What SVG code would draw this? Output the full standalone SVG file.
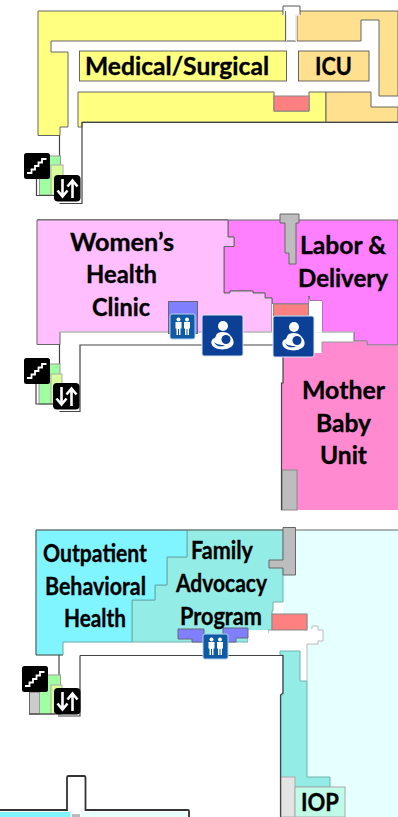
<svg xmlns="http://www.w3.org/2000/svg" xmlns:xlink="http://www.w3.org/1999/xlink" width="398" height="817" viewBox="0 0 398 817">
<style>
.a{stroke:#666;stroke-width:1;stroke-linejoin:miter}
.t{stroke:#6fb3ae;stroke-width:1}
.w{fill:none;stroke:#444;stroke-width:1.2}
.y{fill:#ffff80}.o{fill:#ffe08f}.r{fill:#ff8080;stroke:#888;stroke-width:1}
.g{fill:#a0ffa0;stroke:#999;stroke-width:1}.l{fill:#d8ff99;stroke:#aaa;stroke-width:1}
.b{fill:#8080ff;stroke:#667;stroke-width:1}.s{fill:#bdbdbd;stroke:#666;stroke-width:1}
text{font-family:Lato,"Liberation Sans",sans-serif;font-weight:700;font-size:25.5px;fill:#000;stroke:#000;stroke-width:.35}
</style>
<defs>
<g id="stairs"><rect width="26" height="26" rx="2.5" fill="#000"/><path d="M3 20H7.500V16.500H11V13H14.500V9.500H18V6H22.500" fill="none" stroke="#fff" stroke-width="1.800"/></g>
<g id="lift"><rect width="26.500" height="26.500" rx="4" fill="#000"/><path d="M8.500 4V21M3.500 15.500L8.500 21.500L13.500 15.500M18.500 23V6M13.500 11.500L18.500 5.500L23.500 11.500" fill="none" stroke="#fff" stroke-width="2.600"/></g>
<g id="wc"><rect width="25" height="25" rx="2" fill="#0f5aa5" stroke="#b5d2ea" stroke-width="1"/><g fill="#fff"><circle cx="8.500" cy="5.500" r="2"/><circle cx="17" cy="5.500" r="2"/><path d="M5.500 8H11.500V14.500H10.500V21H9V15H8V21H6.500V14.500H5.500Z"/><path d="M14 8H20V14.500H19V21H17.500V15H16.500V21H15V14.500H14Z"/></g></g>
<g id="nurse"><rect width="41" height="41" rx="2" fill="#0c3f96" stroke="#dbe5f3" stroke-width="1"/><g fill="#fff"><circle cx="21" cy="11" r="5"/><path d="M16 18C20 16 26 17 28 20C33 25 33 31 27 33C21 36 12 34 10 30C8 26 11 23 13 23C14 21 14 19 16 18Z"/></g><circle cx="24" cy="24.500" r="4.500" fill="#0c3f96"/><path d="M12 27C15 30 19 29.500 23 30.500C20 32 14 32 12 27Z" fill="#0c3f96"/></g>
</defs>

<g id="floor-1">
<path class="y a" d="M38 11H286V41H51V52H68V127H60V135.500H38Z"/>
<path class="o a" d="M297 11H398V96H379V20H361V41H297Z"/>
<path d="M283 6H300V15H296V41H286V15H283Z" fill="#fff" stroke="#555" stroke-width="1"/>
<path d="M286 15V41M296 15V41M283 15H286M296 15H300" stroke="#fff" stroke-width="1.500" fill="none"/>
<path d="M285.500 11V41" stroke="#666" fill="none"/>
<path class="y a" d="M78 92H274V111H309V92H326V122H82V127H78Z"/>
<path class="o a" d="M326 92H371V107H398V122H326Z"/>
<rect class="r" x="274" y="96" width="35" height="15"/>
<path class="w" d="M398 122.500H82V203.500H59.500M59.500 135.500V156"/>
<rect class="g" x="39.500" y="156" width="21" height="39"/>
<rect class="l" x="51" y="165" width="12" height="30"/>
<path class="w" d="M36.500 170V195.500H54"/>
<use xlink:href="#stairs" x="24" y="153"/>
<use xlink:href="#lift" x="54" y="175"/>
<g id="medical-surgical"><rect class="y a" x="79.500" y="51" width="207" height="30"/><text x="85" y="75" textLength="184" lengthAdjust="spacingAndGlyphs">Medical/Surgical</text></g>
<g id="icu"><rect class="o a" x="298.500" y="51" width="70.500" height="30"/><text x="315" y="75" textLength="37" lengthAdjust="spacingAndGlyphs">ICU</text></g>
</g>

<g id="floor-2">
<path d="M37 220H228V237H234V246.500H224V293H230V291H253V293H265V298H272V304H309V296L310 301H322V332H354V341H367V345H398V220Z" fill="#ff80ff" stroke="#666"/>
<path d="M37 220H228V237H234V246.500H224V293H230V291H253V293H265V298H272V332H60V344.500H37Z" fill="#ffbfff" stroke="#666"/>
<path d="M60 332H354" stroke="#ddd" fill="none"/>
<path d="M272 332H322V301H310V297L309 304H272Z" fill="#fff"/>
<rect class="r" x="273.500" y="304" width="35" height="12"/>
<path d="M283 355H313V353H322V342H354V341H367V345H398V510H281V383H283Z" fill="#ff8ad0"/>
<path d="M322 352V342H354V341H367V345H398" fill="none" stroke="#999"/>
<rect x="282" y="470" width="15" height="40" fill="#bdbdbd" stroke="#888"/>
<path class="s" d="M280 214H299V223H296V264H289V253H285V223H280Z"/>
<rect class="b" x="168.500" y="301.500" width="29" height="32"/>
<path class="w" d="M273 345H80V411.500H59.500M59.500 344.500V364M283 355V383H281.500V510"/>
<rect class="g" x="39" y="364" width="21" height="40"/>
<rect class="l" x="51" y="374" width="11" height="30"/>
<path class="w" d="M36 380V404H54"/>
<use xlink:href="#stairs" x="24" y="358"/>
<use xlink:href="#lift" x="53" y="383"/>
<use xlink:href="#wc" x="170" y="314"/>
<use xlink:href="#nurse" x="202" y="315"/>
<use xlink:href="#nurse" x="273" y="316"/>
<g id="womens-health-clinic"><text x="70" y="251" textLength="104" lengthAdjust="spacingAndGlyphs">Women’s</text><text x="86" y="283" textLength="71" lengthAdjust="spacingAndGlyphs">Health</text><text x="92" y="316" textLength="58" lengthAdjust="spacingAndGlyphs">Clinic</text></g>
<g id="labor-delivery"><text x="300" y="254" textLength="86" lengthAdjust="spacingAndGlyphs">Labor &amp;</text><text x="298" y="287" textLength="90" lengthAdjust="spacingAndGlyphs">Delivery</text></g>
<g id="mother-baby-unit"><text x="302" y="399" textLength="83" lengthAdjust="spacingAndGlyphs">Mother</text><text x="316" y="432" textLength="55" lengthAdjust="spacingAndGlyphs">Baby</text><text x="320" y="464" textLength="47" lengthAdjust="spacingAndGlyphs">Unit</text></g>
</g>

<g id="floor-3">
<path d="M295 530H398V817H307V681H307V644H318V641H323V630H318V626H312V629H307V614H283V575H295Z" fill="#e6ffff"/>
<path d="M295 530H398" class="a" fill="none"/>
<path d="M307 630V614" stroke="#bbb" fill="none"/>
<path d="M312 629V626H318V630H323V641H318V644H307V681H300V651H280V655H80V642H268V630H312Z" fill="#fff"/>
<path d="M312 629V626H318V630H323V641H318V644H307V681" fill="none" stroke="#bbb"/>
<path d="M187 530H283V602H273V611H272V630H268V633H248V642H132V600H155V585H167V557H187Z" fill="#94ece6" class="t"/>
<path d="M36 530H187V557H167V585H155V600H132V642H63V655H36Z" fill="#80f4ff" stroke="#6aa"/>
<path d="M36 530H283M36 530V655H63" class="a" fill="none"/>
<path d="M203 642H268V630H248V642Z" fill="#fff"/>
<path class="s" d="M283 527.500H295.500V575H283V568H269V560H283Z"/>
<path class="b" d="M178 629H204V642H192V639H178Z"/>
<path class="b" d="M223 628H248V638H236V642H223Z"/>
<rect class="r" x="272" y="614" width="35" height="16"/>
<path d="M280 651H300V681H307V777H330V787H295V817H281V695H283V655H280Z" fill="#94ece6" stroke="#6fb3ae"/>
<rect x="281" y="777" width="14" height="40" fill="#e4e4e4" stroke="#aaa"/>
<rect x="295" y="787" width="50" height="30" fill="#bffbe6" stroke="#aaa"/>
<path class="w" d="M80 655.500H283V693L280.500 695V817M80 655.500V716H58M59 655V675"/>
<rect x="29.500" y="692" width="10" height="22" fill="#ccc" stroke="#666"/>
<rect x="39.500" y="675" width="21" height="39" fill="#a0ffa0" stroke="#999"/>
<rect class="l" x="51" y="685" width="11" height="29"/>
<path class="w" d="M29 714H55"/>
<use xlink:href="#stairs" x="22" y="666"/>
<use xlink:href="#lift" x="54" y="688"/>
<use xlink:href="#wc" x="203" y="634"/>
<g id="outpatient-behavioral-health"><text x="43" y="562" textLength="104" lengthAdjust="spacingAndGlyphs">Outpatient</text><text x="45" y="595" textLength="101" lengthAdjust="spacingAndGlyphs">Behavioral</text><text x="64" y="627" textLength="62" lengthAdjust="spacingAndGlyphs">Health</text></g>
<g id="family-advocacy-program"><text x="191" y="559" textLength="62" lengthAdjust="spacingAndGlyphs">Family</text><text x="176" y="592" textLength="91" lengthAdjust="spacingAndGlyphs">Advocacy</text><text x="180" y="625" textLength="82" lengthAdjust="spacingAndGlyphs">Program</text></g>
<g id="iop"><text x="301" y="811" textLength="38" lengthAdjust="spacingAndGlyphs">IOP</text></g>
</g>

<g id="floor-4">
<rect x="0" y="812" width="70.500" height="5" fill="#80f4ff"/>
<rect x="81" y="812" width="106" height="5" fill="#e6ffff"/>
<rect x="72" y="814" width="8" height="3" fill="#bbb"/>
<path d="M0 810H67V777.500Q67 776 68.500 776H84Q85.500 776 85.500 777.500V810H188Q189 810 189 811V817" fill="none" stroke="#333" stroke-width="1.800"/>
</g>
</svg>
